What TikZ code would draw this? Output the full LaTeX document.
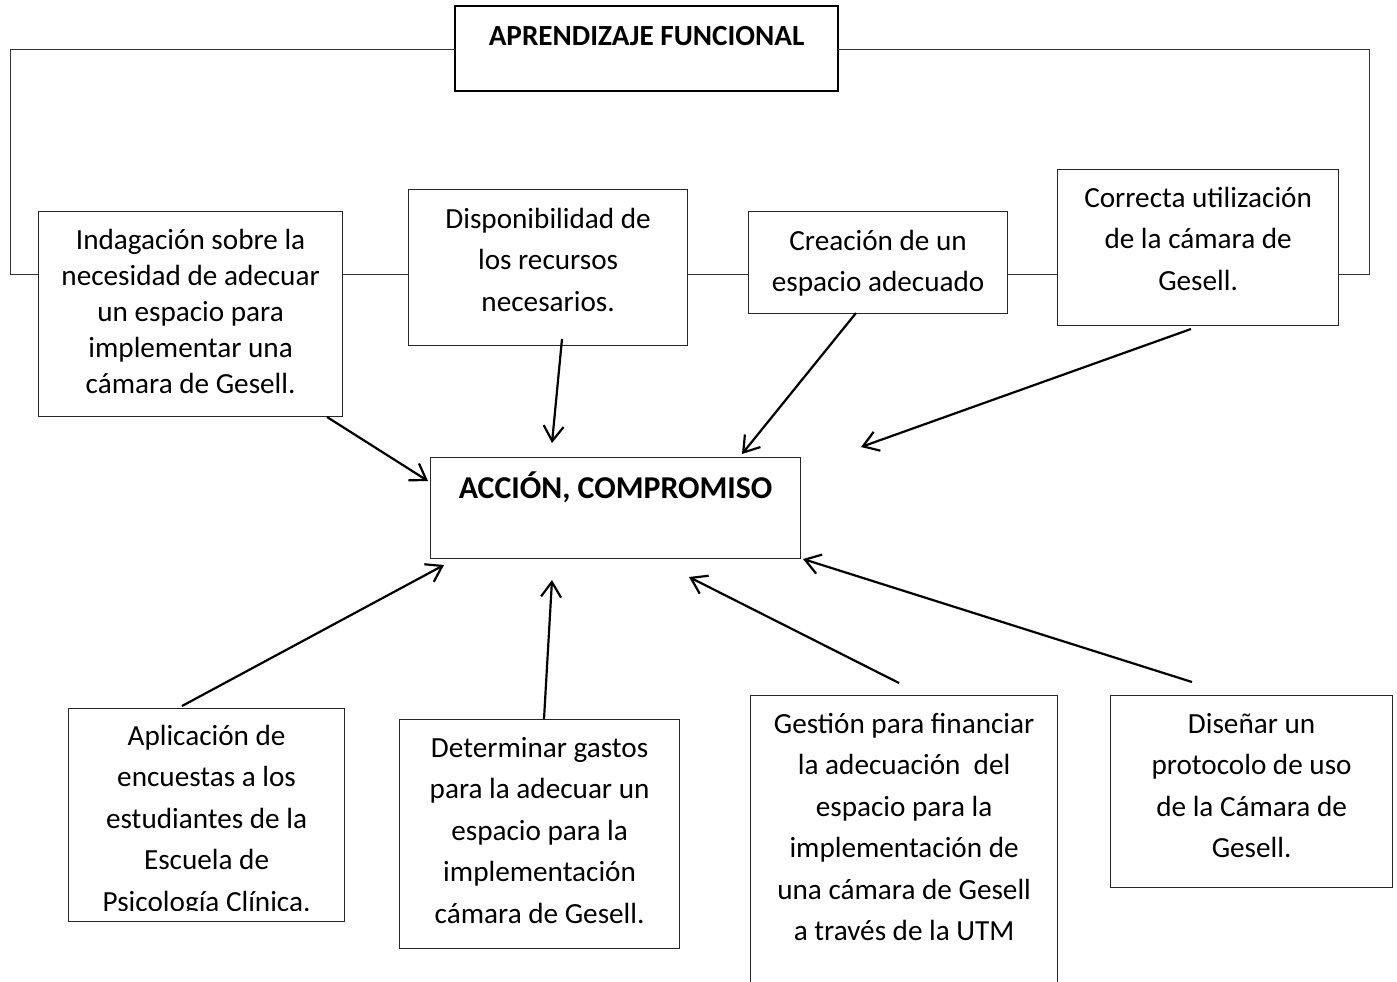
\documentclass[tikz,border=0pt]{standalone}
\usepackage{fontspec}
\setmainfont{Carlito}
\usetikzlibrary{arrows.meta}
\newcommand{\cuerpo}{\fontsize{29.2}{41.5}\selectfont}
\newcommand{\cuerpoB}{\fontsize{29.2}{36}\selectfont}
\newcommand{\CAJA}[7][]{
  \node[caja, minimum width=#4, minimum height=#5, anchor=north west] (#2) at #3 {};
  \node[texto, #1] (#2t) at ([yshift=-#6]#2.north) {\strut #7};
}

\begin{document}
\begin{tikzpicture}[x=1pt, y=-1pt,
    caja/.style={draw=black!85, line width=1.2pt, inner sep=0pt},
    texto/.style={anchor=north, align=center, inner sep=0pt, font=\cuerpo},
    linea/.style={draw=black!80, line width=1pt},
    flecha/.style={-{Straight Barb[length=15pt,width=20pt]}, line width=2.2pt}]
  \useasboundingbox (0,0) rectangle (1397,982);

  % titulo
  \CAJA[font=\cuerpo\bfseries]{titulo}{(455,6)}{382}{84}{10}{APRENDIZAJE FUNCIONAL}
  \draw[line width=1.8pt] (titulo.north west) rectangle (titulo.south east);

  % fila de arriba
  \CAJA[font=\cuerpoB]{indag}{(38,211)}{304}{205}{13.3}{Indagación sobre la\\necesidad de adecuar\\un espacio para\\implementar una\\cámara de Gesell.}
  \CAJA{disp}{(408,189)}{279}{156}{10}{Disponibilidad de\\los recursos\\necesarios.}
  \CAJA{crea}{(748,211)}{259}{102}{10}{Creación de un\\espacio adecuado}
  \CAJA{corr}{(1057,169)}{281}{156}{9}{Correcta utilización\\de la cámara de\\Gesell.}

  % centro
  \CAJA[font=\fontsize{31.8}{39}\selectfont\bfseries]{accion}{(430,457)}{370}{101}{13.7}{ACCIÓN, COMPROMISO}

  % fila de abajo
  \node[caja, minimum width=276, minimum height=213, anchor=north west] (apli) at (68,708) {};
  \begin{scope}
    \clip (68,708) rectangle (344,910);
    \node[texto] (aplit) at ([yshift=-8]apli.north) {\strut Aplicación de\\encuestas a los\\estudiantes de la\\Escuela de\\Psicología Clínica.};
  \end{scope}
  \CAJA{det}{(399,719)}{280}{229}{9}{Determinar gastos\\para la adecuar un\\espacio para la\\implementación\\cámara de Gesell.}
  \CAJA{gest}{(750,695)}{307}{300}{9}{Gestión para financiar\\la adecuación\ \ del\\espacio para la\\implementación de\\una cámara de Gesell\\a través de la UTM}
  \CAJA{dis}{(1110,695)}{282}{192}{9}{Diseñar un\\protocolo de uso\\de la Cámara de\\Gesell.}

  % corchete
  \coordinate (izqa) at (10.5,50);
  \coordinate (izqb) at (10.5,274);
  \coordinate (dera) at (1369,50);
  \coordinate (derb) at (1369,274);
  \draw[linea] (titulo.west |- izqa) -- (izqa) -- (izqb) -- (indag.west |- izqb);
  \draw[linea] (indag.east |- izqb) -- (disp.west |- izqb);
  \draw[linea] (disp.east |- izqb) -- (crea.west |- izqb);
  \draw[linea] (crea.east |- izqb) -- (corr.west |- izqb);
  \draw[linea] (corr.east |- derb) -- (derb) -- (dera) -- (titulo.east |- dera);

  % flechas
  \coordinate (a1) at (327,417);  \coordinate (p1) at (428,481);
  \coordinate (a2) at (562,339);  \coordinate (p2) at (552,443);
  \coordinate (a3) at (856,313);  \coordinate (p3) at (742,454);
  \coordinate (a4) at (1191,329); \coordinate (p4) at (861,447);
  \coordinate (b1) at (182,706);  \coordinate (q1) at (444,565);
  \coordinate (b2) at (544,719);  \coordinate (q2) at (552,580);
  \coordinate (b3) at (899,683);  \coordinate (q3) at (689,577);
  \coordinate (b4) at (1192,682); \coordinate (q4) at (803,559);
  \draw[flecha] (a1) -- (p1);
  \draw[flecha] (a2) -- (p2);
  \draw[flecha] (a3) -- (p3);
  \draw[flecha] (a4) -- (p4);
  \draw[flecha] (b1) -- (q1);
  \draw[flecha] (b2) -- (q2);
  \draw[flecha] (b3) -- (q3);
  \draw[flecha] (b4) -- (q4);
\end{tikzpicture}
\end{document}
